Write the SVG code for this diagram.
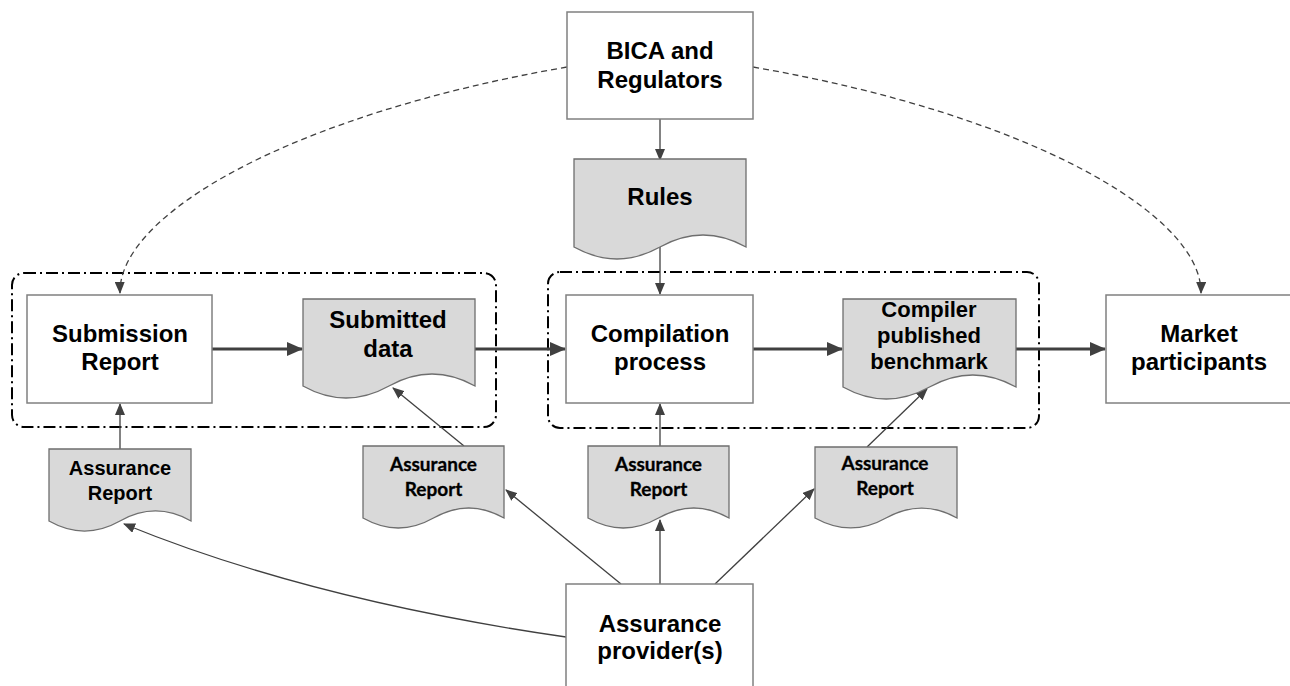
<svg xmlns="http://www.w3.org/2000/svg" width="1290" height="686" viewBox="0 0 1290 686">
<style>
.box{fill:#fff;stroke:#808080;stroke-width:1.5}
.doc{fill:#d9d9d9;stroke:#6e6e6e;stroke-width:1.3}
.grp{fill:none;stroke:#000;stroke-width:2;stroke-dasharray:12 4 2 4}
.t{font-family:"Liberation Sans",Arial,sans-serif;font-weight:bold;font-size:24px;fill:#000;text-anchor:middle}
.t22{font-size:22px}
.t20{font-size:20px}
.c{font-family:Lato,"Liberation Sans",sans-serif;font-weight:bold;font-size:19px;fill:#000;stroke:#000;stroke-width:0.3;text-anchor:middle}
.thin{fill:none;stroke:#404040;stroke-width:1.3;marker-end:url(#ah)}
.thick{fill:none;stroke:#404040;stroke-width:3;marker-end:url(#ahb)}
.dash{fill:none;stroke:#404040;stroke-width:1.3;stroke-dasharray:6 4;marker-end:url(#ah)}
</style>
<defs>
<marker id="ah" markerWidth="12" markerHeight="10" refX="11" refY="5" orient="auto" markerUnits="userSpaceOnUse">
<path d="M0,0 L12,5 L0,10 Z" fill="#404040"/>
</marker>
<marker id="ahb" markerWidth="16" markerHeight="14" refX="15" refY="7" orient="auto" markerUnits="userSpaceOnUse">
<path d="M0,0 L16,7 L0,14 Z" fill="#404040"/>
</marker>
</defs>
<rect width="1290" height="686" fill="#fff"/>

<g id="group-submission">
<rect class="grp" x="12" y="273" width="484" height="154" rx="12"/>
</g>
<g id="group-compilation">
<rect class="grp" x="548" y="272" width="491" height="156" rx="12"/>
</g>

<g id="connectors">
<line class="thin" x1="660" y1="119" x2="660" y2="160"/>
<line class="thin" x1="660" y1="247" x2="660" y2="294"/>
<line class="thick" x1="212" y1="349" x2="302" y2="349"/>
<line class="thick" x1="475" y1="349" x2="565" y2="349"/>
<line class="thick" x1="753" y1="349" x2="842" y2="349"/>
<line class="thick" x1="1016" y1="349" x2="1105" y2="349"/>
<path class="dash" d="M567,67 C290,115 118,215 120,293"/>
<path class="dash" d="M753,67 C1030,115 1202,215 1201,293"/>
<line class="thin" x1="120" y1="449" x2="120" y2="404"/>
<line class="thin" x1="464" y1="446" x2="393" y2="388"/>
<line class="thin" x1="660" y1="446" x2="660" y2="404"/>
<line class="thin" x1="867" y1="447" x2="927" y2="389"/>
<path class="thin" d="M566,637 Q310,600 124,524"/>
<line class="thin" x1="621" y1="584" x2="506" y2="490"/>
<line class="thin" x1="660" y1="584" x2="660" y2="520"/>
<line class="thin" x1="715" y1="584" x2="814" y2="489"/>
</g>

<g id="bica">
<rect class="box" x="567" y="12" width="186" height="107"/>
<text class="t" x="660" y="59">BICA and</text>
<text class="t" x="660" y="88">Regulators</text>
</g>

<g id="rules">
<path class="doc" d="M574,159 H746 V247 C717.3,231 688.7,231 660,247 C631.3,263 602.7,263 574,247 Z"/>
<text class="t" x="660" y="205">Rules</text>
</g>

<g id="submission-report">
<rect class="box" x="27" y="295" width="185" height="108"/>
<text class="t" x="120" y="342">Submission</text>
<text class="t" x="120" y="370">Report</text>
</g>

<g id="submitted-data">
<path class="doc" d="M303,299 H475 V386 C446.3,370 417.7,370 389,386 C360.3,402 331.7,402 303,386 Z"/>
<text class="t" x="388" y="328">Submitted</text>
<text class="t" x="388" y="357">data</text>
</g>

<g id="compilation-process">
<rect class="box" x="566" y="295" width="187" height="108"/>
<text class="t" x="660" y="342">Compilation</text>
<text class="t" x="660" y="370">process</text>
</g>

<g id="compiler-benchmark">
<path class="doc" d="M843,299 H1016 V387 C987.2,371 958.3,371 929.5,387 C900.7,403 871.8,403 843,387 Z"/>
<text class="t t22" x="929" y="317">Compiler</text>
<text class="t t22" x="929" y="343">published</text>
<text class="t t22" x="929" y="369">benchmark</text>
</g>

<g id="market-participants">
<rect class="box" x="1106" y="295" width="190" height="108"/>
<text class="t" x="1199" y="342">Market</text>
<text class="t" x="1199" y="370">participants</text>
</g>

<g id="assurance-report-1">
<path class="doc" d="M49,449 H191 V521 C167.5,507.7 143.5,507.7 120,521 C96.5,534.3 72.5,534.3 49,521 Z"/>
<text class="t t20" x="120" y="475">Assurance</text>
<text class="t t20" x="120" y="500">Report</text>
</g>

<g id="assurance-report-2">
<path class="doc" d="M363,446 H504 V518 C480.5,504.7 457,504.7 433.5,518 C410,531.3 386.5,531.3 363,518 Z"/>
<text class="c" x="433.5" y="471">Assurance</text>
<text class="c" x="433.5" y="496">Report</text>
</g>

<g id="assurance-report-3">
<path class="doc" d="M588,446 H729 V518 C705.5,504.7 682,504.7 658.5,518 C635,531.3 611.5,531.3 588,518 Z"/>
<text class="c" x="658.5" y="471">Assurance</text>
<text class="c" x="658.5" y="496">Report</text>
</g>

<g id="assurance-report-4">
<path class="doc" d="M815,447 H957 V518 C933.5,504.7 910,504.7 886,518 C862.5,531.3 839,531.3 815,518 Z"/>
<text class="c" x="885" y="470">Assurance</text>
<text class="c" x="885" y="495">Report</text>
</g>

<g id="assurance-providers">
<rect class="box" x="566" y="584" width="187" height="110"/>
<text class="t" x="660" y="632">Assurance</text>
<text class="t" x="660" y="659">provider(s)</text>
</g>
</svg>
